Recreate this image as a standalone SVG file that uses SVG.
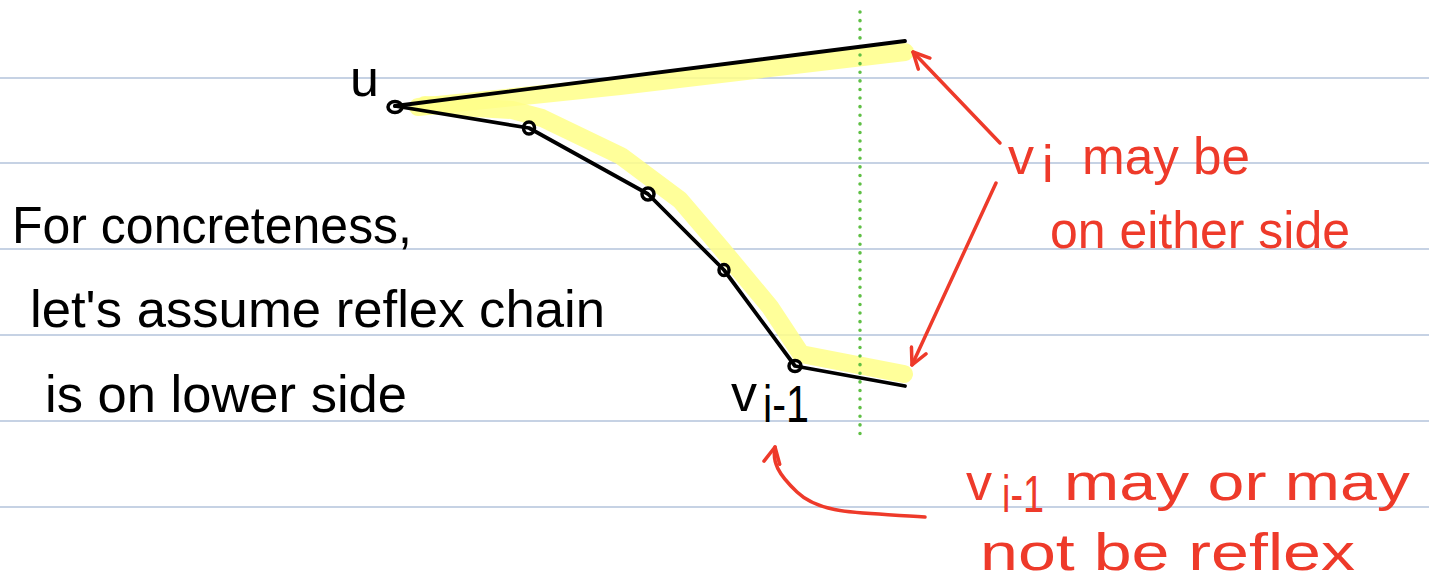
<svg xmlns="http://www.w3.org/2000/svg" width="1429" height="584" viewBox="0 0 1429 584">
<style>
.rule{stroke:#b3c3db;stroke-width:1.6}
.ink{fill:none;stroke:#000;stroke-width:3.8;stroke-linecap:round;stroke-linejoin:round}
.hl{fill:none;stroke:#ffff88;stroke-opacity:0.85;stroke-width:18;stroke-linecap:round;stroke-linejoin:round}
.vtx{fill:none;stroke:#000;stroke-width:3.5}
.red{fill:none;stroke:#ee3a2a;stroke-width:3.5;stroke-linecap:round;stroke-linejoin:round}
.tb{font-family:"Liberation Sans","DejaVu Sans",sans-serif;font-size:52px;fill:#000}
.tr{font-family:"Liberation Sans","DejaVu Sans",sans-serif;font-size:52px;fill:#ee3a2a}
</style>
<defs>
<marker id="ah" viewBox="0 0 20 20" refX="18" refY="10" markerWidth="20" markerHeight="20" markerUnits="userSpaceOnUse" orient="auto">
<path d="M2 2 L18 10 L2 18" fill="none" stroke="#ee3a2a" stroke-width="3.5" stroke-linecap="round" stroke-linejoin="round"/>
</marker>
</defs>
<rect width="1429" height="584" fill="#fff"/>
<g id="rules">
<line class="rule" x1="0" y1="78" x2="1429" y2="78"/>
<line class="rule" x1="0" y1="163" x2="1429" y2="163"/>
<line class="rule" x1="0" y1="249" x2="1429" y2="249"/>
<line class="rule" x1="0" y1="335" x2="1429" y2="335"/>
<line class="rule" x1="0" y1="421" x2="1429" y2="421"/>
<line class="rule" x1="0" y1="507" x2="1429" y2="507"/>
</g>
<g id="highlight">
<path class="hl" d="M418 107 L620 86 L905 52"/>
<path class="hl" d="M425 105 L512 110 L542 118 L621 156 L680 200 L721 248 L770 307 L801 354 L904 374"/>
</g>
<line id="divider" x1="860" y1="12" x2="860" y2="442" stroke="#5fbf45" stroke-width="3.5" stroke-dasharray="0.1 8.5" stroke-linecap="round"/>
<g id="polygon">
<path class="ink" d="M395 106 L905 41"/>
<path class="ink" d="M395 106 L529 128 L648 194 L724 270 L795 366 L905 386"/>
</g>
<g id="vertices">
<ellipse class="vtx" cx="395" cy="107" rx="7" ry="5.5"/>
<ellipse class="vtx" cx="529" cy="128" rx="5.5" ry="6"/>
<ellipse class="vtx" cx="648" cy="194" rx="6" ry="6"/>
<ellipse class="vtx" cx="724" cy="270" rx="5" ry="5.5"/>
<ellipse class="vtx" cx="795" cy="366" rx="6" ry="5.5"/>
</g>
<g id="label-u"><text class="tb" x="350" y="96" font-size="40">u</text></g>
<g id="label-vi1">
<text class="tb" x="731" y="411" font-size="42">v</text>
<text class="tb" x="763" y="422" font-size="32" textLength="46" lengthAdjust="spacingAndGlyphs">i-1</text>
</g>
<g id="note-left">
<text class="tb" x="12" y="243" textLength="400" lengthAdjust="spacingAndGlyphs">For concreteness,</text>
<text class="tb" x="30" y="327" textLength="575" lengthAdjust="spacingAndGlyphs">let's assume reflex chain</text>
<text class="tb" x="45" y="412" textLength="362" lengthAdjust="spacingAndGlyphs">is on lower side</text>
</g>
<g id="note-vi">
<text class="tr" x="1008" y="174" font-size="48">v</text>
<text class="tr" x="1042" y="182" font-size="34">i</text>
<text class="tr" x="1082" y="174" textLength="168" lengthAdjust="spacingAndGlyphs">may be</text>
<text class="tr" x="1050" y="248" textLength="300" lengthAdjust="spacingAndGlyphs">on either side</text>
</g>
<g id="note-vi1">
<text class="tr" x="966" y="500" font-size="56">v</text>
<text class="tr" x="1002" y="512" font-size="38" textLength="42" lengthAdjust="spacingAndGlyphs">i-1</text>
<text class="tr" x="1064" y="500" font-size="56" textLength="346" lengthAdjust="spacingAndGlyphs">may or may</text>
<text class="tr" x="980" y="570" font-size="56" textLength="375" lengthAdjust="spacingAndGlyphs">not be reflex</text>
</g>
<g id="connectors">
<path class="red" d="M1000 143 L913 52" marker-end="url(#ah)"/>
<path class="red" d="M996 183 L912 365" marker-end="url(#ah)"/>
<path class="red" d="M925 517 C865 512 822 516 797 492 C778 474 772 462 775 447" marker-end="url(#ah)"/>
</g>
</svg>
